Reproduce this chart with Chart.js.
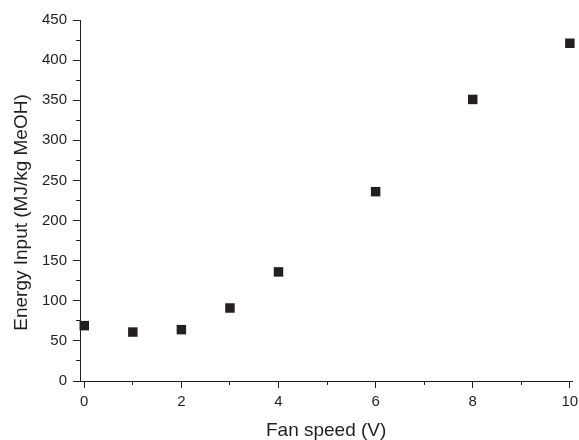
<!DOCTYPE html>
<html>
<head>
<meta charset="utf-8">
<script src="https://cdn.jsdelivr.net/npm/chart.js@4.4.1/dist/chart.umd.min.js"></script>
<style>
  html, body { margin: 0; padding: 0; background: #fff; }
  #wrap { width: 579px; height: 440px; }
</style>
</head>
<body>
<div id="wrap"><canvas id="chart" width="579" height="440"></canvas></div>
<script>
// Data
const fanSpeed = [0, 1, 2, 3, 4, 6, 8, 10];
const energyInput = [69, 61, 64, 91, 136, 236, 351, 421];

const xLabel = 'Fan speed (V)';
const yLabel = 'Energy Input (MJ/kg MeOH)';

const FONT = "'Liberation Sans', Arial, sans-serif";
const INK = '#231f20';

// fix axis box sizes so the plot area sits where the original has it
function fixSize(w, h) {
    return (s) => {
        if (w !== null) s.width = w;
        if (h !== null) s.height = h;
        s.paddingLeft = 0; s.paddingRight = 0;
        s.paddingTop = 0; s.paddingBottom = 0;
    };
}

// y axis title, drawn a little below the middle like the original
const yTitlePlugin = {
    id: 'yTitle',
    afterDraw(chart) {
        const { ctx, chartArea } = chart;
        ctx.save();
        ctx.translate(22, (chartArea.top + chartArea.bottom) / 2 + 12);
        ctx.rotate(-Math.PI / 2);
        ctx.font = '19px ' + FONT;
        ctx.fillStyle = INK;
        ctx.textAlign = 'center';
        ctx.textBaseline = 'middle';
        ctx.fillText(yLabel, 0, 0);
        ctx.restore();
    }
};

const xMin = -0.088, xMax = 10.05;

new Chart(document.getElementById('chart'), {
    type: 'scatter',
    data: {
        datasets: [{
            data: fanSpeed.map((v, i) => ({ x: v, y: energyInput[i] })),
            xAxisID: 'x',
            yAxisID: 'y',
            backgroundColor: INK,
            pointStyle: 'rect',
            pointRadius: 6.7,
            pointBorderWidth: 0,
            clip: false,
        }]
    },
    options: {
        responsive: false,
        animation: false,
        layout: { padding: { top: 20, right: 6, left: 0, bottom: 0 } },
        plugins: {
            legend: { display: false },
            tooltip: { enabled: false },
        },
        scales: {
            x: {
                type: 'linear',
                position: 'bottom',
                weight: 1,
                min: xMin,
                max: xMax,
                afterFit: fixSize(null, 59),
                border: { display: true, color: INK, width: 1 },
                grid: { drawOnChartArea: false, drawTicks: true, tickLength: 7, color: INK },
                ticks: {
                    stepSize: 2,
                    includeBounds: false,
                    padding: 5,
                    color: INK,
                    font: { family: FONT, size: 15 },
                    maxRotation: 0,
                },
                title: {
                    display: true,
                    text: xLabel,
                    color: INK,
                    font: { family: FONT, size: 19, lineHeight: 1 },
                    padding: { top: 0, bottom: 0 },
                },
            },
            x2: {
                type: 'linear',
                axis: 'x',
                position: 'bottom',
                weight: 0,
                min: xMin,
                max: xMax,
                afterFit: fixSize(null, 0),
                border: { display: false },
                grid: { drawOnChartArea: false, drawTicks: true, tickLength: 4, color: INK },
                ticks: { stepSize: 1, includeBounds: false, display: false },
            },
            y: {
                type: 'linear',
                position: 'left',
                weight: 1,
                min: 0,
                max: 450,
                afterFit: fixSize(80, null),
                border: { display: true, color: INK, width: 1 },
                grid: { drawOnChartArea: false, drawTicks: true, tickLength: 7, color: INK },
                ticks: {
                    stepSize: 50,
                    padding: 6,
                    color: INK,
                    font: { family: FONT, size: 15 },
                },
            },
            y2: {
                type: 'linear',
                axis: 'y',
                position: 'left',
                weight: 0,
                min: 0,
                max: 450,
                afterFit: fixSize(0, null),
                border: { display: false },
                grid: { drawOnChartArea: false, drawTicks: true, tickLength: 4, color: INK },
                ticks: { stepSize: 25, display: false },
            },
        }
    },
    plugins: [yTitlePlugin]
});
</script>
</body>
</html>
